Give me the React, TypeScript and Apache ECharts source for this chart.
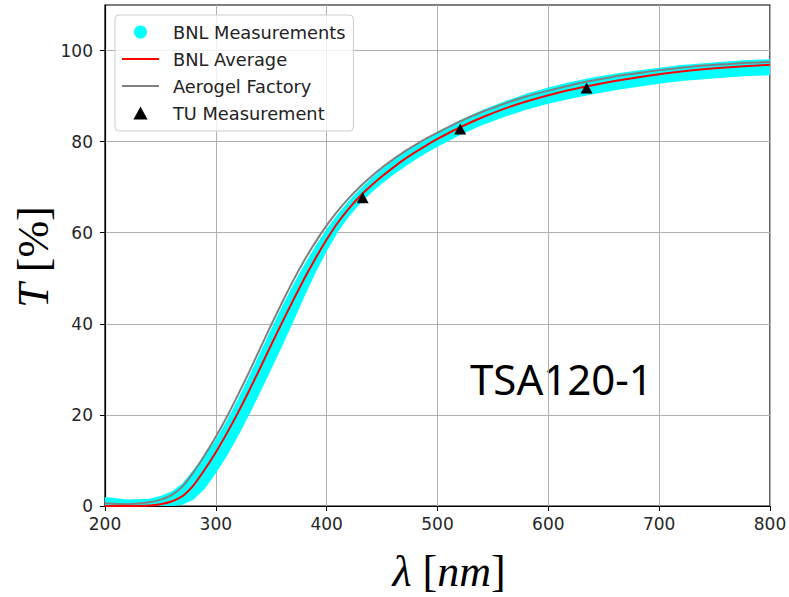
import React, { useEffect, useRef } from "react";
import * as echarts from "echarts";

// Wavelength grid (nm) shared by every curve below
const WAVELENGTH = [
  200, 220, 240, 250, 260, 270, 280, 290, 300, 310, 320, 330, 340, 350, 360, 370,
  380, 390, 400, 410, 420, 430, 440, 450, 460, 470, 480, 490, 500, 520, 540, 560,
  580, 600, 620, 640, 660, 680, 700, 720, 740, 760, 780, 800,
];

// BNL average transmittance (%)
const BNL_AVERAGE = [
  0.0, 0.0, 0.1, 0.4, 1.0, 2.2, 4.6, 8.0, 11.8, 16.0, 20.5, 25.3, 30.3, 35.4, 40.4, 45.3,
  50.0, 54.4, 58.5, 62.2, 65.3, 68.0, 70.3, 72.4, 74.3, 76.1, 77.7, 79.2, 80.6, 83.1, 85.3, 87.2,
  88.8, 90.2, 91.4, 92.4, 93.3, 94.1, 94.8, 95.4, 95.9, 96.3, 96.6, 96.9,
];

// Transmittance supplied by the aerogel factory (%)
const AEROGEL_FACTORY = [
  0.6, 0.4, 0.8, 1.4, 2.4, 4.3, 7.5, 11.2, 15.2, 19.6, 24.4, 29.4, 34.6, 39.8, 44.8, 49.6,
  54.0, 58.0, 61.6, 64.8, 67.6, 70.1, 72.3, 74.3, 76.1, 77.8, 79.3, 80.7, 82.0, 84.4, 86.5, 88.3,
  89.9, 91.2, 92.4, 93.4, 94.3, 95.0, 95.7, 96.2, 96.7, 97.0, 97.3, 97.5,
];

// Spread of the individual BNL measurements: upper and lower envelopes (%)
const BNL_UPPER = [
  2.0, 1.4, 1.6, 2.2, 3.2, 5.0, 8.0, 11.2, 14.6, 18.8, 23.5, 28.5, 33.7, 38.9, 43.9, 48.7,
  53.1, 57.1, 60.8, 64.1, 67.0, 69.6, 71.9, 74.0, 75.9, 77.6, 79.2, 80.7, 82.1, 84.7, 86.9, 88.8,
  90.5, 91.9, 93.1, 94.1, 94.9, 95.6, 96.2, 96.8, 97.2, 97.6, 97.9, 98.1,
];
const BNL_LOWER = [
  0.0, 0.0, 0.0, 0.0, 0.0, 0.3, 1.4, 3.8, 7.2, 11.0, 15.3, 20.0, 24.9, 30.0, 35.2, 40.5,
  46.0, 51.2, 55.9, 60.1, 63.5, 66.3, 68.7, 70.8, 72.7, 74.4, 76.0, 77.5, 78.9, 81.4, 83.6, 85.4,
  87.0, 88.3, 89.4, 90.4, 91.3, 92.0, 92.7, 93.3, 93.7, 94.1, 94.4, 94.6,
];

// TU spot measurements
const TU_WAVELENGTH = [432.5, 520.5, 634.5];
const TU_VALUE = [67.7, 82.8, 91.8];

const Y_TICKS = [0, 20, 40, 60, 80, 100];
const SAMPLE_NAME = "TSA120-1";

const TICK_FONT = { fontSize: 17, fontFamily: "DejaVu Sans", color: "#262626" };
const SERIF = "Liberation Serif";
const HIDDEN_MARKER = { color: "rgba(0,0,0,0)", borderWidth: 0, opacity: 0 };
// Upward triangle for the legend; a path icon keeps its own aspect ratio
const TRIANGLE_ICON = "path://M6,0L12,11L0,11Z";

export default function App() {
  const ref = useRef<HTMLDivElement>(null);

  useEffect(() => {
    document.body.style.margin = "0";
    if (!ref.current) return;
    const chart = echarts.init(ref.current, null, { renderer: "svg" });

    const option: any = {
      animation: false,
      grid: {
        left: 105,
        right: 19,
        top: 5,
        bottom: 91,
        show: true,
        borderColor: "#000",
        borderWidth: 1.2,
        outerBoundsMode: "none",
      },
      xAxis: {
        type: "value",
        min: 200,
        max: 800,
        interval: 100,
        axisLine: { show: true, onZero: false, lineStyle: { color: "#000", width: 1.2 } },
        axisTick: { show: true, inside: false, length: 5, lineStyle: { color: "#000" } },
        axisLabel: { margin: 9, ...TICK_FONT },
        splitLine: { show: true, lineStyle: { color: "#b0b0b0", width: 1 } },
      },
      yAxis: {
        type: "value",
        min: 0,
        max: 110,
        interval: 20,
        axisLine: { show: true, onZero: false, lineStyle: { color: "#000", width: 1.2 } },
        axisTick: {
          show: true,
          inside: false,
          length: 5,
          customValues: Y_TICKS,
          lineStyle: { color: "#000" },
        },
        axisLabel: { margin: 12, customValues: Y_TICKS, ...TICK_FONT },
        splitLine: { show: true, lineStyle: { color: "#b0b0b0", width: 1 } },
      },
      legend: {
        orient: "vertical",
        left: 115,
        top: 15,
        z: 10,
        itemWidth: 37,
        itemHeight: 13,
        itemGap: 9,
        symbolKeepAspect: true,
        padding: [8, 8, 9, 6],
        backgroundColor: "rgba(255,255,255,0.8)",
        borderColor: "#cccccc",
        borderWidth: 1,
        borderRadius: 4,
        textStyle: {
          fontSize: 17.8,
          fontFamily: "DejaVu Sans",
          color: "#222",
          padding: [0, 0, 0, 9],
        },
        data: [
          { name: "BNL Measurements", icon: "circle", itemStyle: { color: "#00ffff", opacity: 1 } },
          { name: "BNL Average", itemStyle: HIDDEN_MARKER },
          { name: "Aerogel Factory", itemStyle: HIDDEN_MARKER },
          { name: "TU Measurement", icon: TRIANGLE_ICON, itemStyle: { color: "#000", opacity: 1 } },
        ],
      },
      series: [
        {
          type: "custom",
          name: "BNL Measurements",
          coordinateSystem: "cartesian2d",
          clip: true,
          z: 1,
          itemStyle: { color: "#00ffff" },
          data: [[WAVELENGTH[0], BNL_LOWER[0]]],
          renderItem: (_params: any, api: any) => {
            const pts: number[][] = [];
            for (let i = 0; i < WAVELENGTH.length; i++) {
              pts.push(api.coord([WAVELENGTH[i], BNL_UPPER[i]]));
            }
            for (let i = WAVELENGTH.length - 1; i >= 0; i--) {
              pts.push(api.coord([WAVELENGTH[i], BNL_LOWER[i]]));
            }
            return {
              type: "polygon",
              shape: { points: pts },
              style: { fill: "#00ffff" },
            };
          },
        },
        {
          type: "line",
          name: "BNL Average",
          data: WAVELENGTH.map((w, i) => [w, BNL_AVERAGE[i]]),
          symbol: "none",
          smooth: 0.2,
          z: 4,
          itemStyle: { color: "#ff0000" },
          lineStyle: { color: "#ff0000", width: 2 },
        },
        {
          type: "line",
          name: "Aerogel Factory",
          data: WAVELENGTH.map((w, i) => [w, AEROGEL_FACTORY[i]]),
          symbol: "none",
          smooth: 0.2,
          z: 3,
          itemStyle: { color: "#808080" },
          lineStyle: { color: "#808080", width: 2 },
        },
        {
          type: "scatter",
          name: "TU Measurement",
          data: TU_WAVELENGTH.map((w, i) => [w, TU_VALUE[i]]),
          symbol: "triangle",
          symbolSize: [12, 11],
          z: 5,
          itemStyle: { color: "#000000", opacity: 1 },
        },
      ],
      graphic: [
        {
          type: "text",
          x: 449,
          y: 571,
          style: {
            text: "{i|λ}{n| [}{i|nm}{n|]}",
            align: "center",
            verticalAlign: "middle",
            fill: "#000",
            rich: {
              i: { fontSize: 44, fontFamily: SERIF, fontStyle: "italic", fill: "#000" },
              n: { fontSize: 44, fontFamily: SERIF, fill: "#000" },
            },
          },
        },
        {
          type: "text",
          x: 33,
          y: 257,
          rotation: Math.PI / 2,
          style: {
            text: "{i|T}{n| [%]}",
            align: "center",
            verticalAlign: "middle",
            fill: "#000",
            rich: {
              i: { fontSize: 44, fontFamily: SERIF, fontStyle: "italic", fill: "#000" },
              n: { fontSize: 44, fontFamily: SERIF, fill: "#000" },
            },
          },
        },
        {
          type: "text",
          x: 470,
          y: 378,
          style: {
            text: SAMPLE_NAME,
            fontSize: 42,
            fontFamily: "Noto Sans",
            fill: "#000",
            align: "left",
            verticalAlign: "middle",
          },
        },
      ],
    };

    chart.setOption(option);
    return () => chart.dispose();
  }, []);

  return <div ref={ref} style={{ width: 789, height: 597 }} />;
}
